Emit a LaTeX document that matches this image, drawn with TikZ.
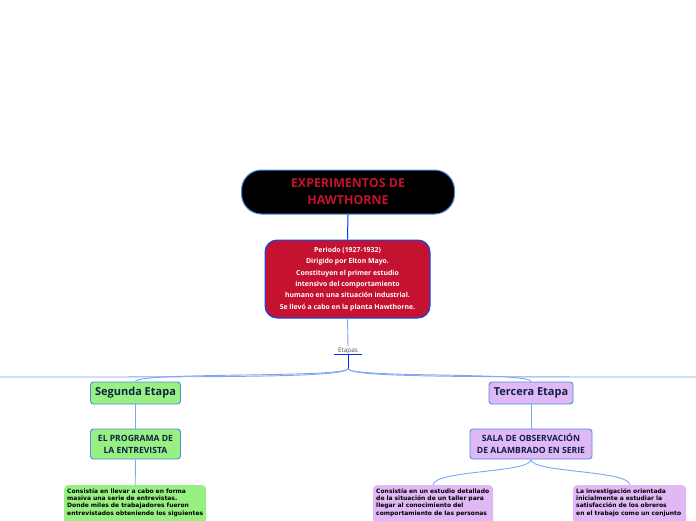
\documentclass[tikz,border=0pt]{standalone}
\usepackage{fontspec}
\setmainfont{Open Sans}
\newfontfamily\boxfont{DejaVu Sans}
\definecolor{crim}{HTML}{C41230}
\definecolor{lnk}{HTML}{7EA6F2}
\definecolor{bord}{HTML}{4A8FE0}
\definecolor{grn}{HTML}{98F083}
\definecolor{lil}{HTML}{DFB8F5}
\definecolor{navy}{HTML}{0F2147}
\tikzset{
  conn/.style={draw=lnk, line width=0.9pt},
  stage/.style={draw=bord, line width=0.9pt, rounded corners=3pt, minimum height=22pt, inner sep=2pt,
    font=\fontsize{11}{12}\selectfont\bfseries, text=navy},
  sub/.style={draw=bord, line width=0.9pt, rounded corners=3pt, minimum height=30pt, inner sep=2pt,
    font=\fontsize{8.6}{12}\selectfont\bfseries, text=navy, align=center},
  txtbox/.style={rounded corners=4pt, anchor=north west, inner xsep=3pt, inner ysep=3pt, align=left,
    font=\boxfont\fontsize{6}{7.4}\selectfont\bfseries, text=black},
}
\begin{document}
\begin{tikzpicture}[x=1pt,y=-1pt]
\useasboundingbox (0,0) rectangle (696,520);
\clip (0,0) rectangle (696,520);
\node[fill=black, draw=bord, line width=1pt, rounded corners=20pt, minimum width=213pt, minimum height=44pt,
  align=center, text=crim, font=\fontsize{12.4}{17}\selectfont\bfseries] (title) at (348,192)
  {EXPERIMENTOS DE\\HAWTHORNE};
\node[fill=crim, draw=blue!70!cyan, line width=1pt, rounded corners=12pt, minimum width=165pt, minimum height=78pt,
  align=center, text=white, font=\fontsize{6.9}{11.4}\selectfont\bfseries] (period) at (347.5,279)
  {Periodo (1927-1932)\\Dirigido por Elton Mayo.\\Constituyen el primer estudio\\intensivo del comportamiento\\humano en una situación industrial.\\Se llevó a cabo en la planta Hawthorne.};
\node[font=\fontsize{6.4}{7}\selectfont, text=black!70, inner sep=1pt] (etapas) at (348,350.5) {Etapas};
\coordinate (j) at (348,369);
\coordinate (leftend) at (0,377);
\coordinate (rightend) at (696,377);
\node[stage, fill=grn, minimum width=90pt] (seg) at (135.5,393) {Segunda Etapa};
\node[sub, fill=grn, minimum width=90pt] (prog) at (135.5,444) {EL PROGRAMA DE\\LA ENTREVISTA};
\node[stage, fill=lil, minimum width=84pt] (ter) at (531,393) {Tercera Etapa};
\node[sub, fill=lil, minimum width=122pt] (sala) at (531,444) {SALA DE OBSERVACIÓN\\DE ALAMBRADO EN SERIE};
\node[txtbox, fill=grn, text width=136pt] (gbox) at (64,485)
  {Consistía en llevar a cabo en forma\\masiva una serie de entrevistas.\\Donde miles de trabajadores fueron\\entrevistados obteniendo los siguientes\\~\\~};
\node[txtbox, fill=lil, text width=114pt] (lbox) at (373,485)
  {Consistía en un estudio detallado\\de la situación de un taller para\\llegar al conocimiento del\\comportamiento de las personas\\~\\~};
\node[txtbox, fill=lil, text width=107pt] (rbox) at (573,485)
  {La investigación orientada\\inicialmente a estudiar la\\satisfacción de los obreros\\en el trabajo como un conjunto\\~\\~};
% connectors
\draw[draw=blue!80!cyan, line width=1pt] (title.south) -- (period.north);
\draw[draw=lnk, line width=0.9pt] (period.south) -- (etapas.north);
\draw[draw=blue!85!cyan, line width=1.1pt] ([xshift=-14pt]etapas.south) -- ([xshift=14pt]etapas.south);
\draw[draw=blue!85!cyan, line width=1pt] (etapas.south) -- (j);
\draw[conn] (j) .. controls (340,377) and (250,377) .. (leftend);
\draw[conn] (j) .. controls (356,377) and (450,377) .. (rightend);
\draw[conn] (j) .. controls (340,378) and (136,372) .. (seg.north);
\draw[conn] (j) .. controls (356,378) and (531,372) .. (ter.north);
\draw[conn] (seg.south) -- (prog.north);
\draw[conn] (ter.south) -- (sala.north);
\draw[conn] (prog.south) -- (gbox.north);
\draw[conn] (sala.south) .. controls (531,473) and (433,470) .. (lbox.north);
\draw[conn] (sala.south) .. controls (531,473) and (630,470) .. (rbox.north);
\end{tikzpicture}
\end{document}
